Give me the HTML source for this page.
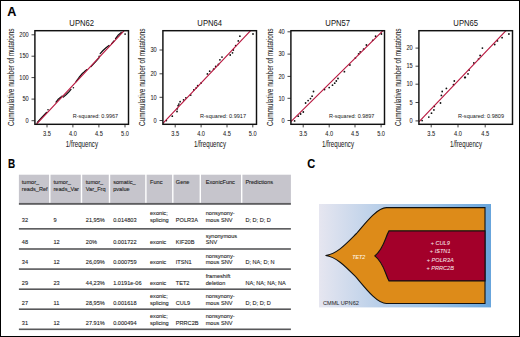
<!DOCTYPE html><html><head><meta charset="utf-8"><style>
html,body{margin:0;padding:0;background:#fff;}
body{width:520px;height:337px;overflow:hidden;position:relative;font-family:"Liberation Sans",sans-serif;}
svg{position:absolute;left:0;top:0;}
#frame{position:absolute;left:0;top:0;width:520px;height:337px;box-sizing:border-box;border:1px solid #000;}
</style></head><body>
<svg width="520" height="337" viewBox="0 0 520 337" font-family='"Liberation Sans", sans-serif'>
<defs></defs>
<text x="7.3" y="15.8" font-size="12.6" text-anchor="start" fill="#000" stroke="#000" stroke-width="0.1" textLength="9.1" lengthAdjust="spacingAndGlyphs" font-weight="bold">A</text>
<text x="7.9" y="168.0" font-size="12.6" text-anchor="start" fill="#000" stroke="#000" stroke-width="0.1" textLength="7.2" lengthAdjust="spacingAndGlyphs" font-weight="bold">B</text>
<text x="307.3" y="168.2" font-size="12.6" text-anchor="start" fill="#000" stroke="#000" stroke-width="0.1" textLength="8.0" lengthAdjust="spacingAndGlyphs" font-weight="bold">C</text>
<clipPath id="cp0"><rect x="34.9" y="30.7" width="93.6" height="93.6"/></clipPath>
<text x="81.69999999999999" y="25.6" font-size="8.6" text-anchor="middle" fill="#111" stroke="#111" stroke-width="0.02" textLength="24.7" lengthAdjust="spacingAndGlyphs" >UPN62</text>
<text transform="translate(14.299999999999999,77.25) rotate(-90)" x="0" y="0" font-size="8.5" text-anchor="middle" fill="#222" stroke="#222" stroke-width="0.06" textLength="97.5" lengthAdjust="spacingAndGlyphs">Cummulative number of mutations</text>
<line x1="31.5" y1="120.7" x2="34.9" y2="120.7" stroke="#444" stroke-width="1.0"/>
<text x="28.7" y="122.9" font-size="6.5" text-anchor="end" fill="#222" stroke="#222" stroke-width="0.06" textLength="3.14" lengthAdjust="spacingAndGlyphs" >0</text>
<line x1="31.5" y1="99.1" x2="34.9" y2="99.1" stroke="#444" stroke-width="1.0"/>
<text x="28.7" y="101.3" font-size="6.5" text-anchor="end" fill="#222" stroke="#222" stroke-width="0.06" textLength="6.29" lengthAdjust="spacingAndGlyphs" >50</text>
<line x1="31.5" y1="77.6" x2="34.9" y2="77.6" stroke="#444" stroke-width="1.0"/>
<text x="28.7" y="79.8" font-size="6.5" text-anchor="end" fill="#222" stroke="#222" stroke-width="0.06" textLength="9.43" lengthAdjust="spacingAndGlyphs" >100</text>
<line x1="31.5" y1="56.2" x2="34.9" y2="56.2" stroke="#444" stroke-width="1.0"/>
<text x="28.7" y="58.400000000000006" font-size="6.5" text-anchor="end" fill="#222" stroke="#222" stroke-width="0.06" textLength="9.43" lengthAdjust="spacingAndGlyphs" >150</text>
<line x1="31.5" y1="34.8" x2="34.9" y2="34.8" stroke="#444" stroke-width="1.0"/>
<text x="28.7" y="37.0" font-size="6.5" text-anchor="end" fill="#222" stroke="#222" stroke-width="0.06" textLength="9.43" lengthAdjust="spacingAndGlyphs" >200</text>
<line x1="47.0" y1="124.3" x2="47.0" y2="127.39999999999999" stroke="#444" stroke-width="1.0"/>
<text x="47.0" y="135.6" font-size="6.5" text-anchor="middle" fill="#222" stroke="#222" stroke-width="0.06" textLength="7.86" lengthAdjust="spacingAndGlyphs" >3.5</text>
<line x1="72.9" y1="124.3" x2="72.9" y2="127.39999999999999" stroke="#444" stroke-width="1.0"/>
<text x="72.9" y="135.6" font-size="6.5" text-anchor="middle" fill="#222" stroke="#222" stroke-width="0.06" textLength="7.86" lengthAdjust="spacingAndGlyphs" >4.0</text>
<line x1="98.9" y1="124.3" x2="98.9" y2="127.39999999999999" stroke="#444" stroke-width="1.0"/>
<text x="98.9" y="135.6" font-size="6.5" text-anchor="middle" fill="#222" stroke="#222" stroke-width="0.06" textLength="7.86" lengthAdjust="spacingAndGlyphs" >4.5</text>
<line x1="125.0" y1="124.3" x2="125.0" y2="127.39999999999999" stroke="#444" stroke-width="1.0"/>
<text x="125.0" y="135.6" font-size="6.5" text-anchor="middle" fill="#222" stroke="#222" stroke-width="0.06" textLength="7.86" lengthAdjust="spacingAndGlyphs" >5.0</text>
<text x="65.8" y="146.7" font-size="8.5" text-anchor="start" fill="#222" stroke="#222" stroke-width="0.05" textLength="32.2" lengthAdjust="spacingAndGlyphs" >1/frequency</text>
<text x="72.8" y="118.0" font-size="6.1" text-anchor="start" fill="#222" stroke="#222" stroke-width="0.02" textLength="45.3" lengthAdjust="spacingAndGlyphs" >R-squared: 0.9967</text>
<g clip-path="url(#cp0)">
<polyline points="37.3,122.4 42.0,117.1 46.5,112.5" fill="none" stroke="#111" stroke-width="1.25" stroke-linejoin="round" stroke-linecap="round"/>
<polyline points="56.0,102.1 58.5,98.9 61.0,96.9" fill="none" stroke="#111" stroke-width="1.25" stroke-linejoin="round" stroke-linecap="round"/>
<polyline points="63.3,97.1 66.0,94.7 68.5,92.3 71.0,89.4" fill="none" stroke="#111" stroke-width="1.25" stroke-linejoin="round" stroke-linecap="round"/>
<polyline points="76.0,81.5 79.0,77.5 82.0,73.8 84.5,71.6 87.0,69.6" fill="none" stroke="#111" stroke-width="1.25" stroke-linejoin="round" stroke-linecap="round"/>
<polyline points="91.0,66.6 95.0,62.4 99.0,57.8" fill="none" stroke="#111" stroke-width="1.25" stroke-linejoin="round" stroke-linecap="round"/>
<polyline points="100.2,53.7 103.0,50.5 106.0,47.8 109.0,45.5" fill="none" stroke="#111" stroke-width="1.25" stroke-linejoin="round" stroke-linecap="round"/>
<polyline points="111.5,43.8 114.0,41.0" fill="none" stroke="#111" stroke-width="1.25" stroke-linejoin="round" stroke-linecap="round"/>
<polyline points="115.5,38.6 118.0,35.3 121.3,32.5" fill="none" stroke="#111" stroke-width="1.25" stroke-linejoin="round" stroke-linecap="round"/>
<circle cx="48" cy="109.7" r="0.8" fill="#111"/>
<circle cx="73.4" cy="87.7" r="0.8" fill="#111"/>
<circle cx="99.2" cy="56.4" r="0.8" fill="#111"/>
<circle cx="62" cy="96.2" r="0.8" fill="#111"/>
<circle cx="125.1" cy="34.1" r="0.9" fill="#111"/>
<line x1="36.3" y1="124.4" x2="124.2" y2="30.7" stroke="#b8173f" stroke-width="1.15"/>
</g>
<rect x="34.9" y="30.7" width="93.6" height="93.6" fill="none" stroke="#111" stroke-width="1.45"/>
<clipPath id="cp1"><rect x="162.9" y="30.7" width="93.6" height="93.6"/></clipPath>
<text x="209.7" y="25.6" font-size="8.6" text-anchor="middle" fill="#111" stroke="#111" stroke-width="0.02" textLength="24.7" lengthAdjust="spacingAndGlyphs" >UPN64</text>
<text transform="translate(144.79999999999998,77.25) rotate(-90)" x="0" y="0" font-size="8.5" text-anchor="middle" fill="#222" stroke="#222" stroke-width="0.06" textLength="97.5" lengthAdjust="spacingAndGlyphs">Cummulative number of mutations</text>
<line x1="159.5" y1="120.5" x2="162.9" y2="120.5" stroke="#444" stroke-width="1.0"/>
<text x="156.70000000000002" y="122.7" font-size="6.5" text-anchor="end" fill="#222" stroke="#222" stroke-width="0.06" textLength="3.14" lengthAdjust="spacingAndGlyphs" >0</text>
<line x1="159.5" y1="97.3" x2="162.9" y2="97.3" stroke="#444" stroke-width="1.0"/>
<text x="156.70000000000002" y="99.5" font-size="6.5" text-anchor="end" fill="#222" stroke="#222" stroke-width="0.06" textLength="6.29" lengthAdjust="spacingAndGlyphs" >10</text>
<line x1="159.5" y1="73.8" x2="162.9" y2="73.8" stroke="#444" stroke-width="1.0"/>
<text x="156.70000000000002" y="76.0" font-size="6.5" text-anchor="end" fill="#222" stroke="#222" stroke-width="0.06" textLength="6.29" lengthAdjust="spacingAndGlyphs" >20</text>
<line x1="159.5" y1="50.0" x2="162.9" y2="50.0" stroke="#444" stroke-width="1.0"/>
<text x="156.70000000000002" y="52.2" font-size="6.5" text-anchor="end" fill="#222" stroke="#222" stroke-width="0.06" textLength="6.29" lengthAdjust="spacingAndGlyphs" >30</text>
<line x1="175.2" y1="124.3" x2="175.2" y2="127.39999999999999" stroke="#444" stroke-width="1.0"/>
<text x="175.2" y="135.6" font-size="6.5" text-anchor="middle" fill="#222" stroke="#222" stroke-width="0.06" textLength="7.86" lengthAdjust="spacingAndGlyphs" >3.5</text>
<line x1="201.1" y1="124.3" x2="201.1" y2="127.39999999999999" stroke="#444" stroke-width="1.0"/>
<text x="201.1" y="135.6" font-size="6.5" text-anchor="middle" fill="#222" stroke="#222" stroke-width="0.06" textLength="7.86" lengthAdjust="spacingAndGlyphs" >4.0</text>
<line x1="227.0" y1="124.3" x2="227.0" y2="127.39999999999999" stroke="#444" stroke-width="1.0"/>
<text x="227.0" y="135.6" font-size="6.5" text-anchor="middle" fill="#222" stroke="#222" stroke-width="0.06" textLength="7.86" lengthAdjust="spacingAndGlyphs" >4.5</text>
<line x1="252.8" y1="124.3" x2="252.8" y2="127.39999999999999" stroke="#444" stroke-width="1.0"/>
<text x="252.8" y="135.6" font-size="6.5" text-anchor="middle" fill="#222" stroke="#222" stroke-width="0.06" textLength="7.86" lengthAdjust="spacingAndGlyphs" >5.0</text>
<text x="194.0" y="146.7" font-size="8.5" text-anchor="start" fill="#222" stroke="#222" stroke-width="0.05" textLength="32.0" lengthAdjust="spacingAndGlyphs" >1/frequency</text>
<text x="200.0" y="118.0" font-size="6.1" text-anchor="start" fill="#222" stroke="#222" stroke-width="0.02" textLength="46.0" lengthAdjust="spacingAndGlyphs" >R-squared: 0.9917</text>
<g clip-path="url(#cp1)">
<circle cx="166.3" cy="120.6" r="0.9" fill="#111"/>
<circle cx="172.3" cy="116.2" r="0.9" fill="#111"/>
<circle cx="177" cy="111.5" r="0.9" fill="#111"/>
<circle cx="177.3" cy="108.8" r="0.9" fill="#111"/>
<circle cx="178.1" cy="105.7" r="0.9" fill="#111"/>
<circle cx="178.9" cy="104.1" r="0.9" fill="#111"/>
<circle cx="180.1" cy="101.7" r="0.9" fill="#111"/>
<circle cx="183.6" cy="99.8" r="0.9" fill="#111"/>
<circle cx="185.9" cy="97.8" r="0.9" fill="#111"/>
<circle cx="190.7" cy="95.1" r="0.9" fill="#111"/>
<circle cx="193.8" cy="89.9" r="0.9" fill="#111"/>
<circle cx="196.2" cy="87.9" r="0.9" fill="#111"/>
<circle cx="197.7" cy="85.7" r="0.9" fill="#111"/>
<circle cx="201.2" cy="82.9" r="0.9" fill="#111"/>
<circle cx="207.4" cy="73.9" r="0.9" fill="#111"/>
<circle cx="209.7" cy="71.2" r="0.9" fill="#111"/>
<circle cx="213.6" cy="69.2" r="0.9" fill="#111"/>
<circle cx="215.7" cy="66.5" r="0.9" fill="#111"/>
<circle cx="218.4" cy="64.5" r="0.9" fill="#111"/>
<circle cx="219.9" cy="59.8" r="0.9" fill="#111"/>
<circle cx="222" cy="57.1" r="0.9" fill="#111"/>
<circle cx="230.2" cy="55" r="0.9" fill="#111"/>
<circle cx="232.5" cy="52.8" r="0.9" fill="#111"/>
<circle cx="233.3" cy="50" r="0.9" fill="#111"/>
<circle cx="235.7" cy="45.6" r="0.9" fill="#111"/>
<circle cx="238.3" cy="40.9" r="0.9" fill="#111"/>
<circle cx="239.9" cy="36.2" r="0.9" fill="#111"/>
<circle cx="253" cy="34" r="0.9" fill="#111"/>
<line x1="162.4" y1="123.9" x2="250.6" y2="30.7" stroke="#b8173f" stroke-width="1.15"/>
</g>
<rect x="162.9" y="30.7" width="93.6" height="93.6" fill="none" stroke="#111" stroke-width="1.45"/>
<clipPath id="cp2"><rect x="290.9" y="30.7" width="93.6" height="93.6"/></clipPath>
<text x="337.7" y="25.6" font-size="8.6" text-anchor="middle" fill="#111" stroke="#111" stroke-width="0.02" textLength="24.7" lengthAdjust="spacingAndGlyphs" >UPN57</text>
<text transform="translate(272.8,77.25) rotate(-90)" x="0" y="0" font-size="8.5" text-anchor="middle" fill="#222" stroke="#222" stroke-width="0.06" textLength="97.5" lengthAdjust="spacingAndGlyphs">Cummulative number of mutations</text>
<line x1="287.5" y1="120.5" x2="290.9" y2="120.5" stroke="#444" stroke-width="1.0"/>
<text x="284.7" y="122.7" font-size="6.5" text-anchor="end" fill="#222" stroke="#222" stroke-width="0.06" textLength="3.14" lengthAdjust="spacingAndGlyphs" >0</text>
<line x1="287.5" y1="98.3" x2="290.9" y2="98.3" stroke="#444" stroke-width="1.0"/>
<text x="284.7" y="100.5" font-size="6.5" text-anchor="end" fill="#222" stroke="#222" stroke-width="0.06" textLength="6.29" lengthAdjust="spacingAndGlyphs" >10</text>
<line x1="287.5" y1="76.4" x2="290.9" y2="76.4" stroke="#444" stroke-width="1.0"/>
<text x="284.7" y="78.60000000000001" font-size="6.5" text-anchor="end" fill="#222" stroke="#222" stroke-width="0.06" textLength="6.29" lengthAdjust="spacingAndGlyphs" >20</text>
<line x1="287.5" y1="54.1" x2="290.9" y2="54.1" stroke="#444" stroke-width="1.0"/>
<text x="284.7" y="56.300000000000004" font-size="6.5" text-anchor="end" fill="#222" stroke="#222" stroke-width="0.06" textLength="6.29" lengthAdjust="spacingAndGlyphs" >30</text>
<line x1="287.5" y1="31.8" x2="290.9" y2="31.8" stroke="#444" stroke-width="1.0"/>
<text x="284.7" y="34.0" font-size="6.5" text-anchor="end" fill="#222" stroke="#222" stroke-width="0.06" textLength="6.29" lengthAdjust="spacingAndGlyphs" >40</text>
<line x1="303.2" y1="124.3" x2="303.2" y2="127.39999999999999" stroke="#444" stroke-width="1.0"/>
<text x="303.2" y="135.6" font-size="6.5" text-anchor="middle" fill="#222" stroke="#222" stroke-width="0.06" textLength="7.86" lengthAdjust="spacingAndGlyphs" >3.5</text>
<line x1="329.2" y1="124.3" x2="329.2" y2="127.39999999999999" stroke="#444" stroke-width="1.0"/>
<text x="329.2" y="135.6" font-size="6.5" text-anchor="middle" fill="#222" stroke="#222" stroke-width="0.06" textLength="7.86" lengthAdjust="spacingAndGlyphs" >4.0</text>
<line x1="355.0" y1="124.3" x2="355.0" y2="127.39999999999999" stroke="#444" stroke-width="1.0"/>
<text x="355.0" y="135.6" font-size="6.5" text-anchor="middle" fill="#222" stroke="#222" stroke-width="0.06" textLength="7.86" lengthAdjust="spacingAndGlyphs" >4.5</text>
<line x1="381.1" y1="124.3" x2="381.1" y2="127.39999999999999" stroke="#444" stroke-width="1.0"/>
<text x="381.1" y="135.6" font-size="6.5" text-anchor="middle" fill="#222" stroke="#222" stroke-width="0.06" textLength="7.86" lengthAdjust="spacingAndGlyphs" >5.0</text>
<text x="322.0" y="146.7" font-size="8.5" text-anchor="start" fill="#222" stroke="#222" stroke-width="0.05" textLength="32.0" lengthAdjust="spacingAndGlyphs" >1/frequency</text>
<text x="329.0" y="118.0" font-size="6.1" text-anchor="start" fill="#222" stroke="#222" stroke-width="0.02" textLength="45.4" lengthAdjust="spacingAndGlyphs" >R-squared: 0.9897</text>
<g clip-path="url(#cp2)">
<circle cx="294.6" cy="120.9" r="0.9" fill="#111"/>
<circle cx="298.2" cy="116.2" r="0.9" fill="#111"/>
<circle cx="300.6" cy="114" r="0.9" fill="#111"/>
<circle cx="303.3" cy="112" r="0.9" fill="#111"/>
<circle cx="305.6" cy="103" r="0.9" fill="#111"/>
<circle cx="308.1" cy="100.6" r="0.9" fill="#111"/>
<circle cx="310.5" cy="98.6" r="0.9" fill="#111"/>
<circle cx="312.1" cy="96.2" r="0.9" fill="#111"/>
<circle cx="313.5" cy="91.5" r="0.9" fill="#111"/>
<circle cx="324.5" cy="89.5" r="0.9" fill="#111"/>
<circle cx="329.2" cy="87.6" r="0.9" fill="#111"/>
<circle cx="332.5" cy="85.2" r="0.9" fill="#111"/>
<circle cx="334.7" cy="83.2" r="0.9" fill="#111"/>
<circle cx="336.3" cy="81" r="0.9" fill="#111"/>
<circle cx="338" cy="78.5" r="0.9" fill="#111"/>
<circle cx="344.4" cy="71.7" r="0.9" fill="#111"/>
<circle cx="349.9" cy="65" r="0.9" fill="#111"/>
<circle cx="355.4" cy="57.9" r="0.9" fill="#111"/>
<circle cx="358.6" cy="53.9" r="0.9" fill="#111"/>
<circle cx="360.2" cy="51.9" r="0.9" fill="#111"/>
<circle cx="363.6" cy="49.2" r="0.9" fill="#111"/>
<circle cx="366.4" cy="45" r="0.9" fill="#111"/>
<circle cx="372.7" cy="40.3" r="0.9" fill="#111"/>
<circle cx="375.6" cy="36.2" r="0.9" fill="#111"/>
<circle cx="381.4" cy="34" r="0.9" fill="#111"/>
<line x1="290.4" y1="122.2" x2="383.0" y2="30.7" stroke="#b8173f" stroke-width="1.15"/>
</g>
<rect x="290.9" y="30.7" width="93.6" height="93.6" fill="none" stroke="#111" stroke-width="1.45"/>
<clipPath id="cp3"><rect x="418.9" y="30.7" width="93.6" height="93.6"/></clipPath>
<text x="465.7" y="25.6" font-size="8.6" text-anchor="middle" fill="#111" stroke="#111" stroke-width="0.02" textLength="24.7" lengthAdjust="spacingAndGlyphs" >UPN65</text>
<text transform="translate(400.8,77.25) rotate(-90)" x="0" y="0" font-size="8.5" text-anchor="middle" fill="#222" stroke="#222" stroke-width="0.06" textLength="97.5" lengthAdjust="spacingAndGlyphs">Cummulative number of mutations</text>
<line x1="415.5" y1="120.9" x2="418.9" y2="120.9" stroke="#444" stroke-width="1.0"/>
<text x="412.7" y="123.10000000000001" font-size="6.5" text-anchor="end" fill="#222" stroke="#222" stroke-width="0.06" textLength="3.14" lengthAdjust="spacingAndGlyphs" >0</text>
<line x1="415.5" y1="102.5" x2="418.9" y2="102.5" stroke="#444" stroke-width="1.0"/>
<text x="412.7" y="104.7" font-size="6.5" text-anchor="end" fill="#222" stroke="#222" stroke-width="0.06" textLength="3.14" lengthAdjust="spacingAndGlyphs" >5</text>
<line x1="415.5" y1="84.2" x2="418.9" y2="84.2" stroke="#444" stroke-width="1.0"/>
<text x="412.7" y="86.4" font-size="6.5" text-anchor="end" fill="#222" stroke="#222" stroke-width="0.06" textLength="6.29" lengthAdjust="spacingAndGlyphs" >10</text>
<line x1="415.5" y1="66.2" x2="418.9" y2="66.2" stroke="#444" stroke-width="1.0"/>
<text x="412.7" y="68.4" font-size="6.5" text-anchor="end" fill="#222" stroke="#222" stroke-width="0.06" textLength="6.29" lengthAdjust="spacingAndGlyphs" >15</text>
<line x1="415.5" y1="48.1" x2="418.9" y2="48.1" stroke="#444" stroke-width="1.0"/>
<text x="412.7" y="50.300000000000004" font-size="6.5" text-anchor="end" fill="#222" stroke="#222" stroke-width="0.06" textLength="6.29" lengthAdjust="spacingAndGlyphs" >20</text>
<line x1="431.2" y1="124.3" x2="431.2" y2="127.39999999999999" stroke="#444" stroke-width="1.0"/>
<text x="431.2" y="135.6" font-size="6.5" text-anchor="middle" fill="#222" stroke="#222" stroke-width="0.06" textLength="7.86" lengthAdjust="spacingAndGlyphs" >3.5</text>
<line x1="458.0" y1="124.3" x2="458.0" y2="127.39999999999999" stroke="#444" stroke-width="1.0"/>
<text x="458.0" y="135.6" font-size="6.5" text-anchor="middle" fill="#222" stroke="#222" stroke-width="0.06" textLength="7.86" lengthAdjust="spacingAndGlyphs" >4.0</text>
<line x1="485.2" y1="124.3" x2="485.2" y2="127.39999999999999" stroke="#444" stroke-width="1.0"/>
<text x="485.2" y="135.6" font-size="6.5" text-anchor="middle" fill="#222" stroke="#222" stroke-width="0.06" textLength="7.86" lengthAdjust="spacingAndGlyphs" >4.5</text>
<text x="450.0" y="146.7" font-size="8.5" text-anchor="start" fill="#222" stroke="#222" stroke-width="0.05" textLength="32.0" lengthAdjust="spacingAndGlyphs" >1/frequency</text>
<text x="458.0" y="118.0" font-size="6.1" text-anchor="start" fill="#222" stroke="#222" stroke-width="0.02" textLength="46.0" lengthAdjust="spacingAndGlyphs" >R-squared: 0.9809</text>
<g clip-path="url(#cp3)">
<circle cx="422.1" cy="120.6" r="0.9" fill="#111"/>
<circle cx="428.8" cy="117.1" r="0.9" fill="#111"/>
<circle cx="431.5" cy="113.2" r="0.9" fill="#111"/>
<circle cx="433.9" cy="109.9" r="0.9" fill="#111"/>
<circle cx="434.3" cy="106.4" r="0.9" fill="#111"/>
<circle cx="440.5" cy="103" r="0.9" fill="#111"/>
<circle cx="441.4" cy="95.4" r="0.9" fill="#111"/>
<circle cx="442.2" cy="91.5" r="0.9" fill="#111"/>
<circle cx="446.4" cy="88.4" r="0.9" fill="#111"/>
<circle cx="453.5" cy="84.7" r="0.9" fill="#111"/>
<circle cx="454.3" cy="81" r="0.9" fill="#111"/>
<circle cx="465.3" cy="77.4" r="0.9" fill="#111"/>
<circle cx="464.8" cy="77.5" r="0.9" fill="#111"/>
<circle cx="468" cy="73.9" r="0.9" fill="#111"/>
<circle cx="469.1" cy="70.1" r="0.9" fill="#111"/>
<circle cx="473.8" cy="62.9" r="0.9" fill="#111"/>
<circle cx="478.5" cy="59.1" r="0.9" fill="#111"/>
<circle cx="480.1" cy="55.5" r="0.9" fill="#111"/>
<circle cx="482.4" cy="48.1" r="0.9" fill="#111"/>
<circle cx="494.7" cy="44.5" r="0.9" fill="#111"/>
<circle cx="497.4" cy="40.9" r="0.9" fill="#111"/>
<circle cx="502.1" cy="37.7" r="0.9" fill="#111"/>
<circle cx="508.9" cy="34" r="0.9" fill="#111"/>
<line x1="418.9" y1="121.9" x2="506.0" y2="30.7" stroke="#b8173f" stroke-width="1.15"/>
</g>
<rect x="418.9" y="30.7" width="93.6" height="93.6" fill="none" stroke="#111" stroke-width="1.45"/>
<rect x="18.9" y="174.7" width="30.20" height="28.20" fill="#c6c5cc"/>
<rect x="50.5" y="174.7" width="30.30" height="28.20" fill="#c6c5cc"/>
<rect x="82.2" y="174.7" width="26.60" height="28.20" fill="#c6c5cc"/>
<rect x="110.2" y="174.7" width="35.00" height="28.20" fill="#c6c5cc"/>
<rect x="146.6" y="174.7" width="25.50" height="28.20" fill="#c6c5cc"/>
<rect x="173.5" y="174.7" width="26.10" height="28.20" fill="#c6c5cc"/>
<rect x="201.0" y="174.7" width="40.00" height="28.20" fill="#c6c5cc"/>
<rect x="242.39999999999998" y="174.7" width="48.50" height="28.20" fill="#c6c5cc"/>
<rect x="18.9" y="202.9" width="272.00" height="1.9" fill="#5e5e60"/>
<text x="21.8" y="184.3" font-size="5.6" text-anchor="start" fill="#1e1e1e" stroke="#1e1e1e" stroke-width="0.1" >tumor_</text>
<text x="21.8" y="190.9" font-size="5.6" text-anchor="start" fill="#1e1e1e" stroke="#1e1e1e" stroke-width="0.1" >reads_Ref</text>
<text x="53.5" y="184.3" font-size="5.6" text-anchor="start" fill="#1e1e1e" stroke="#1e1e1e" stroke-width="0.1" >tumor_</text>
<text x="53.5" y="190.9" font-size="5.6" text-anchor="start" fill="#1e1e1e" stroke="#1e1e1e" stroke-width="0.1" >reads_Var</text>
<text x="85.8" y="184.3" font-size="5.6" text-anchor="start" fill="#1e1e1e" stroke="#1e1e1e" stroke-width="0.1" >tumor_</text>
<text x="85.8" y="190.9" font-size="5.6" text-anchor="start" fill="#1e1e1e" stroke="#1e1e1e" stroke-width="0.1" >Var_Frq</text>
<text x="113.2" y="184.3" font-size="5.6" text-anchor="start" fill="#1e1e1e" stroke="#1e1e1e" stroke-width="0.1" >somatic_</text>
<text x="113.2" y="190.9" font-size="5.6" text-anchor="start" fill="#1e1e1e" stroke="#1e1e1e" stroke-width="0.1" >pvalue</text>
<text x="150.0" y="184.3" font-size="5.6" text-anchor="start" fill="#1e1e1e" stroke="#1e1e1e" stroke-width="0.1" >Func</text>
<text x="175.8" y="184.3" font-size="5.6" text-anchor="start" fill="#1e1e1e" stroke="#1e1e1e" stroke-width="0.1" >Gene</text>
<text x="205.7" y="184.3" font-size="5.6" text-anchor="start" fill="#1e1e1e" stroke="#1e1e1e" stroke-width="0.1" >ExonicFunc</text>
<text x="245.4" y="184.3" font-size="5.6" text-anchor="start" fill="#1e1e1e" stroke="#1e1e1e" stroke-width="0.1" >Predictions</text>
<text x="21.8" y="221.7" font-size="5.6" text-anchor="start" fill="#1e1e1e" stroke="#1e1e1e" stroke-width="0.1" >32</text>
<text x="53.5" y="221.7" font-size="5.6" text-anchor="start" fill="#1e1e1e" stroke="#1e1e1e" stroke-width="0.1" >9</text>
<text x="85.8" y="221.7" font-size="5.6" text-anchor="start" fill="#1e1e1e" stroke="#1e1e1e" stroke-width="0.1" >21,95%</text>
<text x="113.2" y="221.7" font-size="5.6" text-anchor="start" fill="#1e1e1e" stroke="#1e1e1e" stroke-width="0.1" >0.014803</text>
<text x="150.0" y="215.2" font-size="5.6" text-anchor="start" fill="#1e1e1e" stroke="#1e1e1e" stroke-width="0.1" >exonic;</text>
<text x="150.0" y="221.7" font-size="5.6" text-anchor="start" fill="#1e1e1e" stroke="#1e1e1e" stroke-width="0.1" >splicing</text>
<text x="175.8" y="221.7" font-size="5.6" text-anchor="start" fill="#1e1e1e" stroke="#1e1e1e" stroke-width="0.1" >POLR3A</text>
<text x="205.7" y="215.2" font-size="5.6" text-anchor="start" fill="#1e1e1e" stroke="#1e1e1e" stroke-width="0.1" >nonsynony-</text>
<text x="205.7" y="221.7" font-size="5.6" text-anchor="start" fill="#1e1e1e" stroke="#1e1e1e" stroke-width="0.1" >mous SNV</text>
<text x="245.4" y="221.7" font-size="5.6" text-anchor="start" fill="#1e1e1e" stroke="#1e1e1e" stroke-width="0.1" >D; D; D; D</text>
<rect x="18.9" y="228.04999999999998" width="272.00" height="1.6" fill="#58585a"/>
<text x="21.8" y="244.3" font-size="5.6" text-anchor="start" fill="#1e1e1e" stroke="#1e1e1e" stroke-width="0.1" >48</text>
<text x="53.5" y="244.3" font-size="5.6" text-anchor="start" fill="#1e1e1e" stroke="#1e1e1e" stroke-width="0.1" >12</text>
<text x="85.8" y="244.3" font-size="5.6" text-anchor="start" fill="#1e1e1e" stroke="#1e1e1e" stroke-width="0.1" >20%</text>
<text x="113.2" y="244.3" font-size="5.6" text-anchor="start" fill="#1e1e1e" stroke="#1e1e1e" stroke-width="0.1" >0.001722</text>
<text x="150.0" y="244.3" font-size="5.6" text-anchor="start" fill="#1e1e1e" stroke="#1e1e1e" stroke-width="0.1" >exonic</text>
<text x="175.8" y="244.3" font-size="5.6" text-anchor="start" fill="#1e1e1e" stroke="#1e1e1e" stroke-width="0.1" >KIF20B</text>
<text x="205.7" y="237.8" font-size="5.6" text-anchor="start" fill="#1e1e1e" stroke="#1e1e1e" stroke-width="0.1" >synonymous</text>
<text x="205.7" y="244.3" font-size="5.6" text-anchor="start" fill="#1e1e1e" stroke="#1e1e1e" stroke-width="0.1" >SNV</text>
<rect x="18.9" y="248.2" width="272.00" height="1.6" fill="#58585a"/>
<text x="21.8" y="264.3" font-size="5.6" text-anchor="start" fill="#1e1e1e" stroke="#1e1e1e" stroke-width="0.1" >34</text>
<text x="53.5" y="264.3" font-size="5.6" text-anchor="start" fill="#1e1e1e" stroke="#1e1e1e" stroke-width="0.1" >12</text>
<text x="85.8" y="264.3" font-size="5.6" text-anchor="start" fill="#1e1e1e" stroke="#1e1e1e" stroke-width="0.1" >26,09%</text>
<text x="113.2" y="264.3" font-size="5.6" text-anchor="start" fill="#1e1e1e" stroke="#1e1e1e" stroke-width="0.1" >0.000759</text>
<text x="150.0" y="264.3" font-size="5.6" text-anchor="start" fill="#1e1e1e" stroke="#1e1e1e" stroke-width="0.1" >exonic</text>
<text x="175.8" y="264.3" font-size="5.6" text-anchor="start" fill="#1e1e1e" stroke="#1e1e1e" stroke-width="0.1" >ITSN1</text>
<text x="205.7" y="257.8" font-size="5.6" text-anchor="start" fill="#1e1e1e" stroke="#1e1e1e" stroke-width="0.1" >nonsynony-</text>
<text x="205.7" y="264.3" font-size="5.6" text-anchor="start" fill="#1e1e1e" stroke="#1e1e1e" stroke-width="0.1" >mous SNV</text>
<text x="245.4" y="264.3" font-size="5.6" text-anchor="start" fill="#1e1e1e" stroke="#1e1e1e" stroke-width="0.1" >D; NA; D; N</text>
<rect x="18.9" y="268.3" width="272.00" height="1.6" fill="#58585a"/>
<text x="21.8" y="284.5" font-size="5.6" text-anchor="start" fill="#1e1e1e" stroke="#1e1e1e" stroke-width="0.1" >29</text>
<text x="53.5" y="284.5" font-size="5.6" text-anchor="start" fill="#1e1e1e" stroke="#1e1e1e" stroke-width="0.1" >23</text>
<text x="85.8" y="284.5" font-size="5.6" text-anchor="start" fill="#1e1e1e" stroke="#1e1e1e" stroke-width="0.1" >44,23%</text>
<text x="113.2" y="284.5" font-size="5.6" text-anchor="start" fill="#1e1e1e" stroke="#1e1e1e" stroke-width="0.1" >1.0191e-06</text>
<text x="150.0" y="284.5" font-size="5.6" text-anchor="start" fill="#1e1e1e" stroke="#1e1e1e" stroke-width="0.1" >exonic</text>
<text x="175.8" y="284.5" font-size="5.6" text-anchor="start" fill="#1e1e1e" stroke="#1e1e1e" stroke-width="0.1" >TET2</text>
<text x="205.7" y="278.0" font-size="5.6" text-anchor="start" fill="#1e1e1e" stroke="#1e1e1e" stroke-width="0.1" >frameshift</text>
<text x="205.7" y="284.5" font-size="5.6" text-anchor="start" fill="#1e1e1e" stroke="#1e1e1e" stroke-width="0.1" >deletion</text>
<text x="245.4" y="284.5" font-size="5.6" text-anchor="start" fill="#1e1e1e" stroke="#1e1e1e" stroke-width="0.1" >NA; NA; NA; NA</text>
<rect x="18.9" y="288.4" width="272.00" height="1.6" fill="#58585a"/>
<text x="21.8" y="304.5" font-size="5.6" text-anchor="start" fill="#1e1e1e" stroke="#1e1e1e" stroke-width="0.1" >27</text>
<text x="53.5" y="304.5" font-size="5.6" text-anchor="start" fill="#1e1e1e" stroke="#1e1e1e" stroke-width="0.1" >11</text>
<text x="85.8" y="304.5" font-size="5.6" text-anchor="start" fill="#1e1e1e" stroke="#1e1e1e" stroke-width="0.1" >28,95%</text>
<text x="113.2" y="304.5" font-size="5.6" text-anchor="start" fill="#1e1e1e" stroke="#1e1e1e" stroke-width="0.1" >0.001618</text>
<text x="150.0" y="298.0" font-size="5.6" text-anchor="start" fill="#1e1e1e" stroke="#1e1e1e" stroke-width="0.1" >exonic;</text>
<text x="150.0" y="304.5" font-size="5.6" text-anchor="start" fill="#1e1e1e" stroke="#1e1e1e" stroke-width="0.1" >splicing</text>
<text x="175.8" y="304.5" font-size="5.6" text-anchor="start" fill="#1e1e1e" stroke="#1e1e1e" stroke-width="0.1" >CUL9</text>
<text x="205.7" y="298.0" font-size="5.6" text-anchor="start" fill="#1e1e1e" stroke="#1e1e1e" stroke-width="0.1" >nonsynony-</text>
<text x="205.7" y="304.5" font-size="5.6" text-anchor="start" fill="#1e1e1e" stroke="#1e1e1e" stroke-width="0.1" >mous SNV</text>
<text x="245.4" y="304.5" font-size="5.6" text-anchor="start" fill="#1e1e1e" stroke="#1e1e1e" stroke-width="0.1" >D; D; D; D</text>
<rect x="18.9" y="308.4" width="272.00" height="1.6" fill="#58585a"/>
<text x="21.8" y="324.5" font-size="5.6" text-anchor="start" fill="#1e1e1e" stroke="#1e1e1e" stroke-width="0.1" >31</text>
<text x="53.5" y="324.5" font-size="5.6" text-anchor="start" fill="#1e1e1e" stroke="#1e1e1e" stroke-width="0.1" >12</text>
<text x="85.8" y="324.5" font-size="5.6" text-anchor="start" fill="#1e1e1e" stroke="#1e1e1e" stroke-width="0.1" >27.91%</text>
<text x="113.2" y="324.5" font-size="5.6" text-anchor="start" fill="#1e1e1e" stroke="#1e1e1e" stroke-width="0.1" >0.000494</text>
<text x="150.0" y="318.0" font-size="5.6" text-anchor="start" fill="#1e1e1e" stroke="#1e1e1e" stroke-width="0.1" >exonic;</text>
<text x="150.0" y="324.5" font-size="5.6" text-anchor="start" fill="#1e1e1e" stroke="#1e1e1e" stroke-width="0.1" >splicing</text>
<text x="175.8" y="324.5" font-size="5.6" text-anchor="start" fill="#1e1e1e" stroke="#1e1e1e" stroke-width="0.1" >PRRC2B</text>
<text x="205.7" y="318.0" font-size="5.6" text-anchor="start" fill="#1e1e1e" stroke="#1e1e1e" stroke-width="0.1" >nonsynony-</text>
<text x="205.7" y="324.5" font-size="5.6" text-anchor="start" fill="#1e1e1e" stroke="#1e1e1e" stroke-width="0.1" >mous SNV</text>
<rect x="18.9" y="328.5" width="272.00" height="1.6" fill="#58585a"/>
<linearGradient id="bg" x1="0" y1="0" x2="1" y2="0"><stop offset="0" stop-color="#e6e6f0"/><stop offset="0.33" stop-color="#bbd0e9"/><stop offset="0.65" stop-color="#9cc2e6"/><stop offset="1" stop-color="#68a5dc"/></linearGradient>
<rect x="319" y="204" width="172" height="103.4" fill="url(#bg)"/>
<path d="M485,207.6 L386.5,207.6 C377,207.6 365,223.5 356.5,233.5 C346,244 337,254 325.5,255.55 C337,257.1 346,267.1 356.5,277.6 C365,287.6 377,303.5 386.5,303.5 L485,303.5 Z" fill="#dd8b19" stroke="#111" stroke-width="1.1"/>
<path d="M485,230.9 L389,230.9 C385,237.7 384,248.7 374.8,255.9 C384,263 385,274 389,280.9 L485,280.9 Z" fill="#a3002a" stroke="#111" stroke-width="1.1"/>
<text x="358.7" y="258.9" font-size="6.2" text-anchor="middle" fill="#fff8ea" stroke="#fff8ea" stroke-width="0.08" textLength="13" lengthAdjust="spacingAndGlyphs" font-style="italic">TET2</text>
<text x="440.2" y="245.00" font-size="5.6" text-anchor="middle" fill="#f8e8ea" stroke="#f8e8ea" stroke-width="0.04">+ <tspan font-style="italic">CUL9</tspan></text>
<text x="440.2" y="253.27" font-size="5.6" text-anchor="middle" fill="#f8e8ea" stroke="#f8e8ea" stroke-width="0.04">+ <tspan font-style="italic">ISTN1</tspan></text>
<text x="440.2" y="261.54" font-size="5.6" text-anchor="middle" fill="#f8e8ea" stroke="#f8e8ea" stroke-width="0.04">+ <tspan font-style="italic">POLR3A</tspan></text>
<text x="440.2" y="269.81" font-size="5.6" text-anchor="middle" fill="#f8e8ea" stroke="#f8e8ea" stroke-width="0.04">+ <tspan font-style="italic">PRRC2B</tspan></text>
<text x="322.9" y="304.6" font-size="5.7" text-anchor="start" fill="#2a2a2a" stroke="#2a2a2a" stroke-width="0.04" textLength="36" lengthAdjust="spacingAndGlyphs" >CMML UPN62</text>
</svg><div id="frame"></div></body></html>
